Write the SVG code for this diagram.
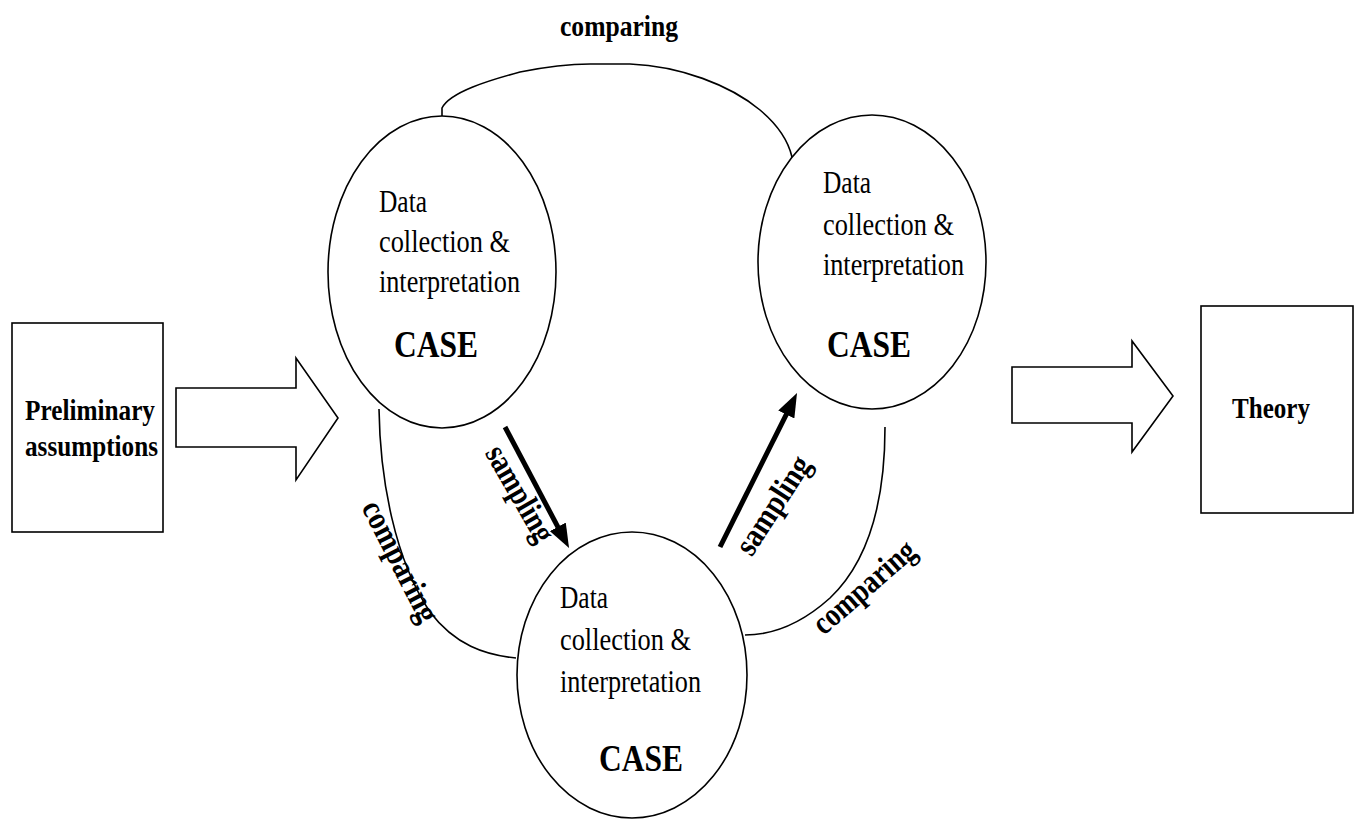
<svg xmlns="http://www.w3.org/2000/svg" width="1358" height="820" viewBox="0 0 1358 820">
<style>
  .shape{fill:#fff;stroke:#000;stroke-width:1.6}
  .line{fill:none;stroke:#000;stroke-width:1.6}
  .thick{fill:none;stroke:#000;stroke-width:5}
  text{font-family:"Liberation Serif","Times New Roman",serif;fill:#000}
  .body{font-size:32px}
  .case{font-size:38px;font-weight:bold}
  .bold{font-size:29px;font-weight:bold}
  .rot{font-size:33px;font-weight:bold;text-anchor:middle}
</style>
<defs>
  <marker id="head" viewBox="0 0 24 18" refX="13" refY="9" markerWidth="24" markerHeight="18" markerUnits="userSpaceOnUse" orient="auto">
    <path d="M0,0 L24,9 L0,18 z" fill="#000"/>
  </marker>
</defs>
<rect width="1358" height="820" fill="#fff"/>

<g id="connectors">
  <polygon class="shape" points="176,388 296,388 296,358 338,418 296,480 296,447 176,447"/>
  <polygon class="shape" points="1012,367 1132,367 1132,341 1173,396 1132,452 1132,423 1012,423"/>
  <path class="line" d="M442,116 L442,108 C450,92 490,80 520,72 C550,66 570,64 590,64 L630,64 C680,66 730,85 760,110 C778,125 788,140 792,157"/>
  <path class="line" d="M379,409 C380,480 395,560 430,612 C455,645 485,655 516,658"/>
  <path class="line" d="M885,427 C885,500 870,560 830,598 C800,625 770,635 745,635"/>
  <line class="thick" x1="505" y1="427" x2="563.9" y2="538.3" marker-end="url(#head)"/>
  <line class="thick" x1="720" y1="547" x2="792.1" y2="402.8" marker-end="url(#head)"/>
  <text class="bold" x="560" y="36" textLength="118" lengthAdjust="spacingAndGlyphs">comparing</text>
  <text class="rot" transform="translate(391,566) rotate(63)" textLength="132" lengthAdjust="spacingAndGlyphs">comparing</text>
  <text class="rot" transform="translate(511,499) rotate(60)" textLength="106" lengthAdjust="spacingAndGlyphs">sampling</text>
  <text class="rot" transform="translate(782,511) rotate(-57)" textLength="111" lengthAdjust="spacingAndGlyphs">sampling</text>
  <text class="rot" transform="translate(871,595) rotate(-41)" textLength="125" lengthAdjust="spacingAndGlyphs">comparing</text>
</g>

<g id="preliminary">
  <rect class="shape" x="12" y="323" width="151" height="209"/>
  <text class="bold" x="25" y="420" textLength="130" lengthAdjust="spacingAndGlyphs">Preliminary</text>
  <text class="bold" x="25" y="456" textLength="133" lengthAdjust="spacingAndGlyphs">assumptions</text>
</g>

<g id="theory">
  <rect class="shape" x="1201" y="306" width="152" height="207"/>
  <text class="bold" x="1232" y="418" textLength="78" lengthAdjust="spacingAndGlyphs">Theory</text>
</g>

<g id="case1">
  <ellipse class="shape" cx="442" cy="272" rx="114" ry="156"/>
  <text class="body" x="379" y="212" textLength="48" lengthAdjust="spacingAndGlyphs">Data</text>
  <text class="body" x="379" y="252" textLength="131" lengthAdjust="spacingAndGlyphs">collection &amp;</text>
  <text class="body" x="379" y="292" textLength="141" lengthAdjust="spacingAndGlyphs">interpretation</text>
  <text class="case" x="394" y="357" textLength="84" lengthAdjust="spacingAndGlyphs">CASE</text>
</g>

<g id="case2">
  <ellipse class="shape" cx="872" cy="262" rx="114" ry="147"/>
  <text class="body" x="823" y="193" textLength="48" lengthAdjust="spacingAndGlyphs">Data</text>
  <text class="body" x="823" y="235" textLength="131" lengthAdjust="spacingAndGlyphs">collection &amp;</text>
  <text class="body" x="823" y="275" textLength="141" lengthAdjust="spacingAndGlyphs">interpretation</text>
  <text class="case" x="827" y="357" textLength="84" lengthAdjust="spacingAndGlyphs">CASE</text>
</g>

<g id="case3">
  <ellipse class="shape" cx="632" cy="675" rx="115" ry="143"/>
  <text class="body" x="560" y="608" textLength="48" lengthAdjust="spacingAndGlyphs">Data</text>
  <text class="body" x="560" y="650" textLength="131" lengthAdjust="spacingAndGlyphs">collection &amp;</text>
  <text class="body" x="560" y="692" textLength="141" lengthAdjust="spacingAndGlyphs">interpretation</text>
  <text class="case" x="599" y="771" textLength="84" lengthAdjust="spacingAndGlyphs">CASE</text>
</g>
</svg>
